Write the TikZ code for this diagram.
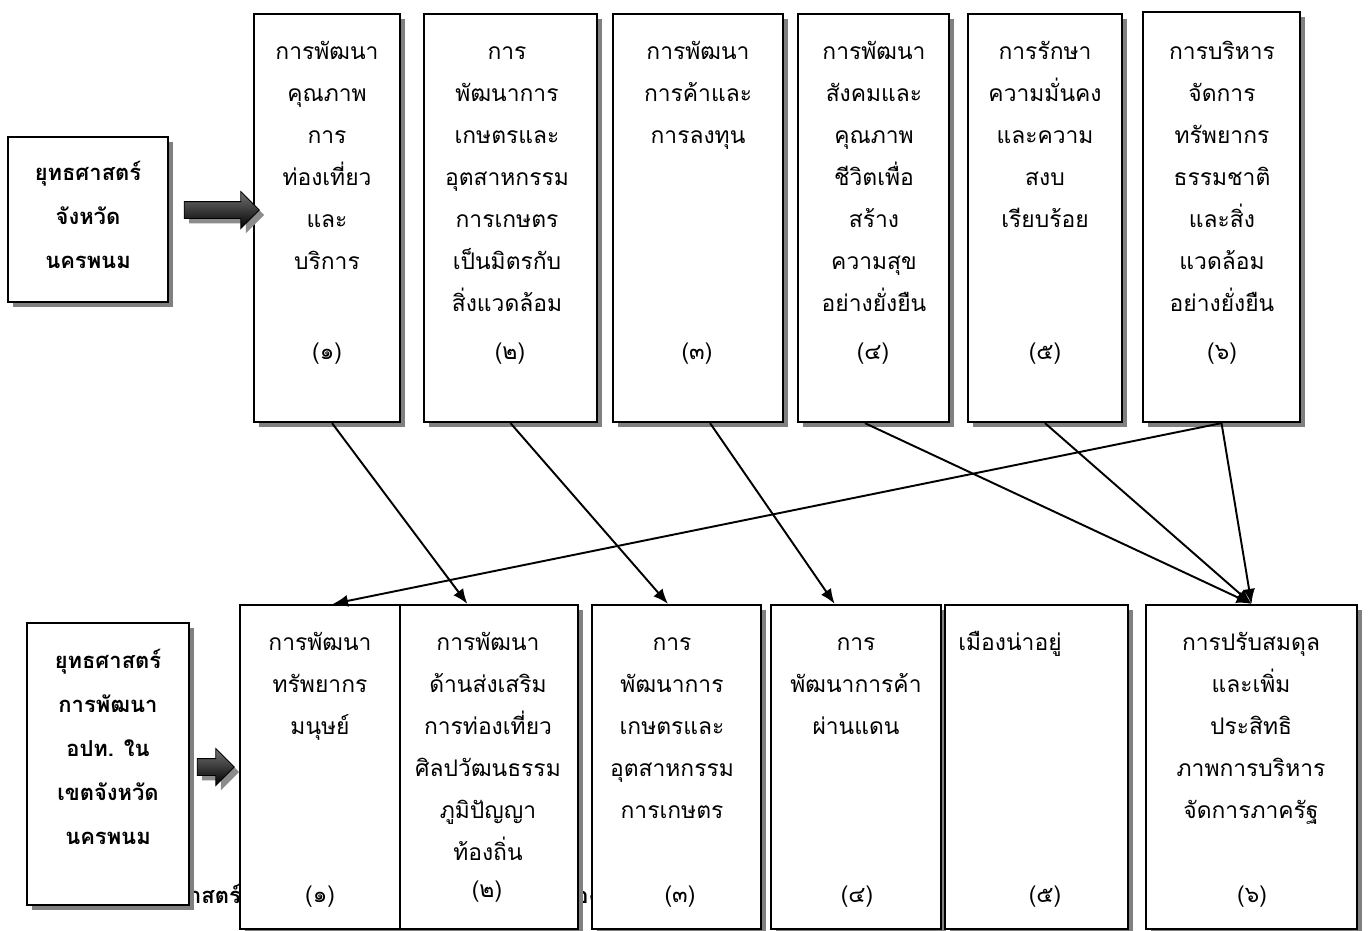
\documentclass[tikz,border=0pt]{standalone}
\usepackage{fontspec}
\newfontfamily\thaifont[Script=Thai]{Loma}
\usetikzlibrary{arrows.meta,positioning,fit,calc,shadows,shapes.arrows}

\begin{document}
\begin{tikzpicture}[
  x=0.02cm, y=-0.02cm,
  box/.style={draw,line width=1.3pt,fill=white,inner sep=0pt,
    drop shadow={shadow xshift=0.1cm,shadow yshift=-0.1cm,fill=black!50,opacity=1}},
  txt/.style={font=\thaifont\fontsize{13}{23.9}\selectfont,align=center,anchor=base,inner sep=0pt},
  num/.style={font=\thaifont\fontsize{13}{17}\selectfont,anchor=base,inner sep=0pt},
  head/.style={font=\thaifont\bfseries\fontsize{12.5}{25}\selectfont,align=center,anchor=base,inner sep=0pt},
  link/.style={-{Latex[length=0.3cm,width=0.24cm]},line width=1.1pt},
  fat/.style={single arrow,draw=black,line width=0.5pt,top color=black!55,bottom color=black,
    inner xsep=0pt,inner ysep=0.16cm,single arrow head extend=0.2cm,
    drop shadow={shadow xshift=0.1cm,shadow yshift=-0.1cm,fill=black!45,opacity=1}}
]
\useasboundingbox (0,0) rectangle (1368,930);

% caption line that sits behind the lower row
\node[head,anchor=base west] (hidden) at (134,903) {ยุทธศาสตร์การพัฒนาขององค์กรปกครองส่วนท้องถิ่นที่};

% Upper row: provincial strategies (text nodes sit on the baseline of their last line)
\node[box,fit={(254,14)(400,422)}] (t1) {};
\node[box,fit={(424,14)(597,422)}] (t2) {};
\node[box,fit={(613,14)(783,422)}] (t3) {};
\node[box,fit={(798,14)(949,422)}] (t4) {};
\node[box,fit={(968,14)(1122,422)}] (t5) {};
\node[box,fit={(1143,12)(1300,422)}] (t6) {};

\node[txt] (t1txt) at (327,269) {การพัฒนา\\คุณภาพ\\การ\\ท่องเที่ยว\\และ\\บริการ};
\node[txt] (t2txt) at (507,311) {การ\\พัฒนาการ\\เกษตรและ\\อุตสาหกรรม\\การเกษตร\\เป็นมิตรกับ\\สิ่งแวดล้อม};
\node[txt] (t3txt) at (698,143) {การพัฒนา\\การค้าและ\\การลงทุน};
\node[txt] (t4txt) at (874,311) {การพัฒนา\\สังคมและ\\คุณภาพ\\ชีวิตเพื่อ\\สร้าง\\ความสุข\\อย่างยั่งยืน};
\node[txt] (t5txt) at (1045,227) {การรักษา\\ความมั่นคง\\และความ\\สงบ\\เรียบร้อย};
\node[txt] (t6txt) at (1222,311) {การบริหาร\\จัดการ\\ทรัพยากร\\ธรรมชาติ\\และสิ่ง\\แวดล้อม\\อย่างยั่งยืน};

\node[num] (t1num) at (327,359) {(๑)};
\node[num] (t2num) at (510,359) {(๒)};
\node[num] (t3num) at (697,359) {(๓)};
\node[num] (t4num) at (873,359) {(๔)};
\node[num] (t5num) at (1045,359) {(๕)};
\node[num] (t6num) at (1222,359) {(๖)};

% Lower row: local strategies
\node[box,fit={(240,605)(400,929)}] (b1) {};
\node[box,fit={(400,605)(578,929)}] (b2) {};
\node[box,fit={(592,605)(761,929)}] (b3) {};
\node[box,fit={(771,605)(941,929)}] (b4) {};
\node[box,fit={(945,605)(1128,929)}] (b5) {};
\node[box,fit={(1146,605)(1357,929)}] (b6) {};

\node[txt] (b1txt) at (320,734) {การพัฒนา\\ทรัพยากร\\มนุษย์};
\node[txt] (b2txt) at (488,860) {การพัฒนา\\ด้านส่งเสริม\\การท่องเที่ยว\\ศิลปวัฒนธรรม\\ภูมิปัญญา\\ท้องถิ่น};
\node[txt] (b3txt) at (672,818) {การ\\พัฒนาการ\\เกษตรและ\\อุตสาหกรรม\\การเกษตร};
\node[txt] (b4txt) at (856,734) {การ\\พัฒนาการค้า\\ผ่านแดน};
\node[txt,anchor=base west] (b5txt) at (958,650) {เมืองน่าอยู่};
\node[txt] (b6txt) at (1251,818) {การปรับสมดุล\\และเพิ่ม\\ประสิทธิ\\ภาพการบริหาร\\จัดการภาครัฐ};

\node[num] (b1num) at (320,902) {(๑)};
\node[num] (b2num) at (487,897) {(๒)};
\node[num] (b3num) at (680,902) {(๓)};
\node[num] (b4num) at (857,902) {(๔)};
\node[num] (b5num) at (1045,902) {(๕)};
\node[num] (b6num) at (1252,902) {(๖)};

% Strategy headings on the left
\node[box,fit={(8,137)(168,302)}] (prov) {};
\node[head] (provtxt) at (88,268) {ยุทธศาสตร์\\จังหวัด\\นครพนม};
\node[box,fit={(27,623)(189,905)}] (local) {};
\node[head] (localtxt) at (108,844) {ยุทธศาสตร์\\การพัฒนา\\อปท. ใน\\เขตจังหวัด\\นครพนม};

\node[fat,minimum height=1.5cm] (arr1) at (217.5,210) {};
\node[fat,minimum height=0.74cm] (arr2) at (211.5,767) {};

% links between the two rows
\draw[link] ($(t1.south west)!.534!(t1.south east)$) -- ($(b2.north west)!.38!(b2.north east)$);
\draw[link] (t2.south) -- ($(b3.north west)!.45!(b3.north east)$);
\draw[link] ($(t3.south west)!.57!(t3.south east)$) -- ($(b4.north west)!.376!(b4.north east)$);
\draw[link] ($(t4.south west)!.444!(t4.south east)$) -- (b6.north);
\draw[link] (t5.south) -- (b6.north);
\draw[link] (t6.south) -- (b6.north);
\draw[link] (t6.south) -- ($(b1.north west)!.58!(b1.north east)$);
\end{tikzpicture}
\end{document}
